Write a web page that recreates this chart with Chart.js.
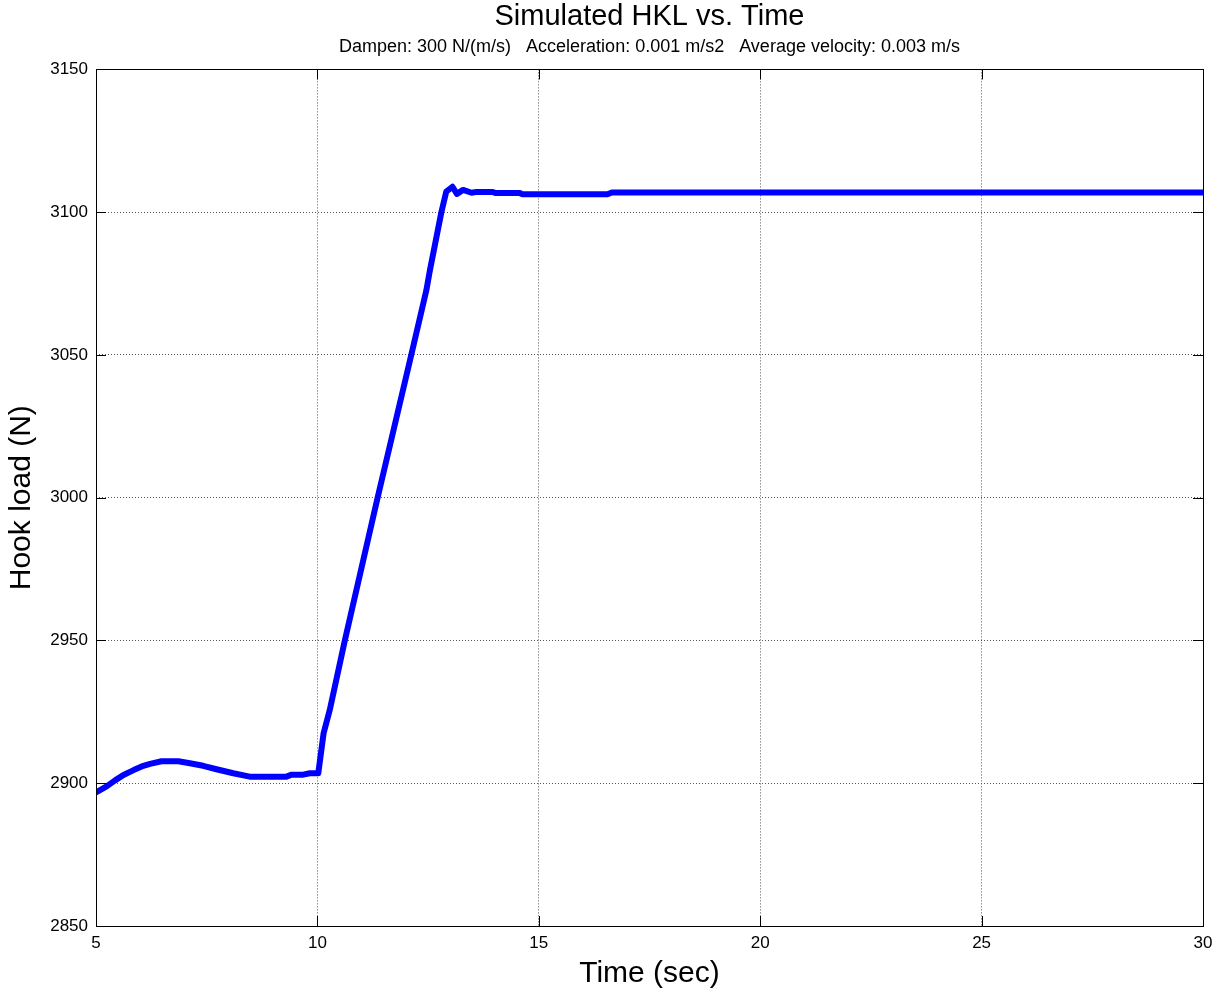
<!DOCTYPE html>
<html>
<head>
<meta charset="utf-8">
<title>Simulated HKL vs. Time</title>
<script src="https://cdn.jsdelivr.net/npm/chart.js@4"></script>
<style>
  html, body { margin: 0; padding: 0; background: #fff; }
  #wrap { width: 1225px; height: 997px; }
</style>
</head>
<body>
<div id="wrap"><canvas id="hklChart" width="1225" height="997"></canvas></div>
<script>
// simulated hook load trace
const timeSec = [5.0, 5.24, 5.43, 5.62, 5.85, 6.07, 6.22, 6.48, 6.86, 7.12, 7.42, 7.72, 8.10, 8.47,
    9.30, 9.42, 9.68, 9.83, 10.02, 10.14, 10.28, 10.62, 11.36, 12.12, 12.46, 12.54, 12.80, 12.91,
    13.05, 13.15, 13.29, 13.48, 13.60, 13.96, 14.02, 14.57, 14.62, 16.55, 16.65, 30.0];
const hookLoad = [2896.8, 2898.9, 2901.0, 2902.9, 2904.6, 2906.1, 2906.8, 2907.7, 2907.7, 2907.0, 2906.1, 2904.9, 2903.5, 2902.3,
    2902.3, 2903.0, 2903.0, 2903.5, 2903.5, 2917.5, 2925.7, 2950.0, 3000.0, 3050.0, 3072.6, 3079.6, 3100.0, 3107.2,
    3108.9, 3106.4, 3107.8, 3106.8, 3107.1, 3107.1, 3106.7, 3106.7, 3106.3, 3106.3, 3106.9, 3106.9];

const xTicks = [5, 10, 15, 20, 25, 30];
const yTicks = [2850, 2900, 2950, 3000, 3050, 3100, 3150];

const chartTitle = "Simulated HKL vs. Time";
const chartSubtitle = "Dampen: 300 N/(m/s)   Acceleration: 0.001 m/s2   Average velocity: 0.003 m/s";

Chart.defaults.font.family = "'Liberation Sans', Arial, sans-serif";
Chart.defaults.color = "#000";

// box around the axes plus inward tick marks on all four sides
const axesBox = {
    id: "axesBox",
    afterDatasetsDraw(chart){
        const {ctx, chartArea:a, scales:{x, y}} = chart;
        const len = 10;
        ctx.save();
        ctx.strokeStyle = "#000";
        ctx.lineWidth = 1;
        ctx.beginPath();
        xTicks.forEach(v=>{
            const px = Math.round(x.getPixelForValue(v)) + 0.5;
            ctx.moveTo(px, a.bottom); ctx.lineTo(px, a.bottom - len);
            ctx.moveTo(px, a.top); ctx.lineTo(px, a.top + len);
        });
        yTicks.forEach(v=>{
            const py = Math.round(y.getPixelForValue(v)) + 0.5;
            ctx.moveTo(a.left, py); ctx.lineTo(a.left + len, py);
            ctx.moveTo(a.right, py); ctx.lineTo(a.right - len, py);
        });
        ctx.stroke();
        ctx.strokeRect(Math.round(a.left) + 0.5, Math.round(a.top) + 0.5,
            Math.round(a.right - a.left), Math.round(a.bottom - a.top));
        ctx.restore();
    }
};

const ctx = document.getElementById("hklChart").getContext("2d");
new Chart(ctx, {
    type: "line",
    data: {
        datasets: [{
            label: "HKL",
            data: timeSec.map((t, i) => ({x: t, y: hookLoad[i]})),
            borderColor: "#0000ff",
            borderWidth: 6,
            pointRadius: 0,
            tension: 0,
            borderJoinStyle: "round",
            borderCapStyle: "round",
            fill: false
        }]
    },
    options: {
        responsive: false,
        animation: false,
        devicePixelRatio: 1,
        layout: { padding: { top: 0, right: 22, bottom: 0, left: 0 } },
        plugins: {
            legend: { display: false },
            tooltip: { enabled: false },
            title: {
                display: true,
                fullSize: false,
                text: chartTitle,
                color: "#000",
                font: { size: 29, weight: "normal" },
                padding: { top: 0, bottom: 1 }
            },
            subtitle: {
                display: true,
                fullSize: false,
                text: chartSubtitle,
                color: "#000",
                font: { size: 18 },
                padding: { top: 0, bottom: 12 }
            }
        },
        scales: {
            x: {
                type: "linear",
                min: 5, max: 30,
                afterFit(scale){ scale.height = 71; },
                afterBuildTicks(scale){ scale.ticks = xTicks.map(v => ({value: v})); },
                ticks: { font: { size: 17 }, padding: 7, maxRotation: 0, callback: v => String(v) },
                grid: { color: "#555", lineWidth: 1, drawTicks: false, tickLength: 0 },
                border: { display: false, dash: [1, 2] },
                title: { display: true, text: "Time (sec)", font: { size: 30 }, padding: { top: 0, bottom: 5 } }
            },
            y: {
                type: "linear",
                min: 2850, max: 3150,
                afterFit(scale){ scale.width = 96; },
                afterBuildTicks(scale){ scale.ticks = yTicks.map(v => ({value: v})); },
                ticks: { font: { size: 17 }, padding: 8, callback: v => String(v) },
                grid: { color: "#555", lineWidth: 1, drawTicks: false, tickLength: 0 },
                border: { display: false, dash: [1, 2] },
                title: { display: true, text: "Hook load (N)", font: { size: 30 }, padding: { top: 4, bottom: 0 } }
            }
        }
    },
    plugins: [axesBox]
});
</script>
</body>
</html>
